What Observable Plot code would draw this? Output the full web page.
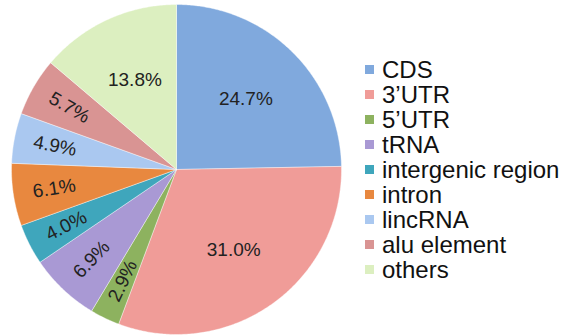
<!DOCTYPE html>
<html>
<head>
<meta charset="utf-8">
<script src="https://cdn.jsdelivr.net/npm/d3@7"></script>
<script src="https://cdn.jsdelivr.net/npm/@observablehq/plot@0.6"></script>
<style>
  body { margin: 0; background: #fff; font-family: Arial, "Liberation Sans", sans-serif; }
  #wrap { position: relative; width: 571px; height: 336px; overflow: hidden; }
  #chart { position: absolute; left: 0; top: 0; }
  #legend { position: absolute; left: 365px; top: 57px; }
  .row { display: flex; align-items: center; height: 25px; font-size: 24px; color: #111; white-space: nowrap; }
  .sw { width: 9px; height: 9px; margin-right: 8px; flex: none; }
</style>
</head>
<body>
<div id="wrap"><div id="chart"></div><div id="legend"></div></div>
<script>
const categories = ["CDS", "3'UTR", "5'UTR", "tRNA", "intergenic region", "intron", "lincRNA", "alu element", "others"];
const legendLabels = ["CDS", "3\u2019UTR", "5\u2019UTR", "tRNA", "intergenic region", "intron", "lincRNA", "alu element", "others"];
const values = [24.7, 31.0, 2.9, 6.9, 4.0, 6.1, 4.9, 5.7, 13.8];
const labels = ["24.7%", "31.0%", "2.9%", "6.9%", "4.0%", "6.1%", "4.9%", "5.7%", "13.8%"];
const colors = ["#80a9dd", "#f09c98", "#8db25f", "#a999d4", "#3fa6bc", "#e8883f", "#aac8f0", "#d99493", "#dcefc0"];

const total = d3.sum(values);
let acc = 0;
const slices = values.map((v, i) => {
  const a0 = acc / total * 2 * Math.PI;
  acc += v;
  const a1 = acc / total * 2 * Math.PI;
  return {name: categories[i], value: v, label: labels[i], a0, a1, mid: (a0 + a1) / 2};
});

// polygon outline of each slice (angle clockwise from 12 o'clock)
const outline = [];
for (const s of slices) {
  outline.push({name: s.name, x: 0, y: 0});
  const n = Math.max(2, Math.ceil((s.a1 - s.a0) / 0.01));
  for (let k = 0; k <= n; k++) {
    const a = s.a0 + (s.a1 - s.a0) * k / n;
    outline.push({name: s.name, x: Math.sin(a), y: Math.cos(a)});
  }
  outline.push({name: s.name, x: 0, y: 0});
}

const textData = slices.map(s => {
  const small = s.value < 10;
  const r = small ? 0.75 : 0.6;
  let rot = 0;
  if (small) {
    const dx = -Math.sin(s.mid), dy = Math.cos(s.mid);
    rot = Math.atan2(dy, dx) * 180 / Math.PI;
  }
  return {label: s.label, x: r * Math.sin(s.mid), y: r * Math.cos(s.mid), rot};
});

const plot = Plot.plot({
  width: 355,
  height: 336,
  marginLeft: 11,
  marginRight: 14,
  marginTop: 4,
  marginBottom: 2,
  x: {domain: [-1, 1], axis: null},
  y: {domain: [-1, 1], axis: null},
  color: {domain: categories, range: colors},
  style: {fontFamily: "Arial, 'Liberation Sans', sans-serif", background: "transparent"},
  marks: [
    Plot.line(outline, {x: "x", y: "y", z: "name", fill: "name", stroke: "white", strokeWidth: 0.4, curve: "linear"}),
    Plot.text(textData, {x: "x", y: "y", text: "label", rotate: "rot", fontSize: 19, fill: "#222"})
  ]
});
document.getElementById("chart").appendChild(plot);

const color = plot.scale("color");
const legend = document.getElementById("legend");
categories.forEach((c, i) => {
  const row = document.createElement("div");
  row.className = "row";
  const sw = document.createElement("span");
  sw.className = "sw";
  sw.style.background = color.apply(c);
  row.appendChild(sw);
  row.appendChild(document.createTextNode(legendLabels[i]));
  legend.appendChild(row);
});
</script>
</body>
</html>
